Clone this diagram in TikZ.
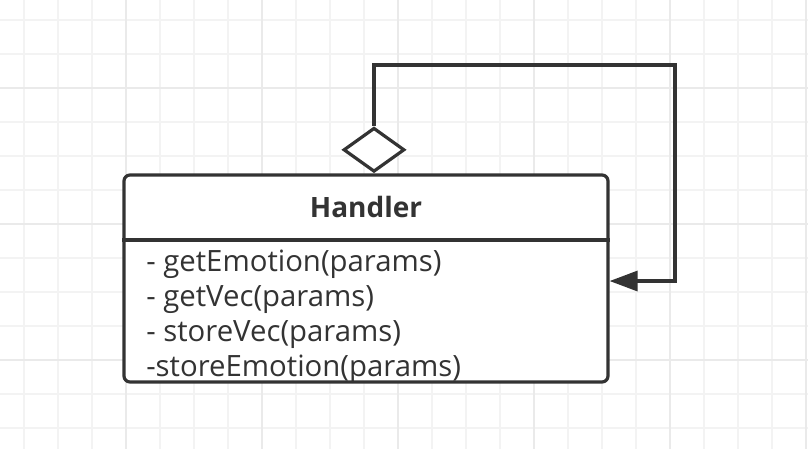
\documentclass[tikz,border=0pt]{standalone}
\usepackage{fontspec}
\setmainfont{Open Sans}
\usetikzlibrary{arrows.meta, positioning, shapes.geometric}
\definecolor{LineGray}{HTML}{333333}
\definecolor{GridLight}{HTML}{F3F3F3}
\definecolor{GridDark}{HTML}{EAEAEA}

\begin{document}
\begin{tikzpicture} [
    x=0.75pt, y=-0.75pt,
    C/.style = {draw=LineGray, line width=2.4pt, rounded corners=4.5pt,
                minimum width=363pt, minimum height=155.25pt, inner sep=0pt},
   agg/.style = {diamond, draw=LineGray, line width=2.4pt, fill=white,
                minimum width=45.75pt, minimum height=33pt, inner sep=0pt},
   row/.style = {anchor=base west, inner sep=0pt, text=LineGray, font=\fontsize{22}{25}\selectfont},
    every edge/.style={draw=LineGray, line width=2.4pt}
]
  \useasboundingbox (0,0) rectangle (808,449);

  % Grid
  \foreach \x in {24,58,...,808} \draw[GridLight, line width=1.5pt] (\x,0) -- (\x,449);
  \foreach \y in {20,54,...,449} \draw[GridLight, line width=1.5pt] (0,\y) -- (808,\y);
  \foreach \x in {126,262,...,808} \draw[GridDark, line width=1.5pt] (\x,0) -- (\x,449);
  \foreach \y in {88,224,360} \draw[GridDark, line width=1.5pt] (0,\y) -- (808,\y);

  % Class box
  \node[C, fill=white] (handler) at (366,278.5) {};
  \node[anchor=base, inner sep=0pt, text=LineGray, font=\fontsize{21}{24}\selectfont\bfseries] (name) at (366,218) {Handler};
  \coordinate (sep) at (0,240);
  \draw[LineGray, line width=2.4pt] (handler.west |- sep) -- (handler.east |- sep);

  % Methods
  \node[row] (m1) at (146,272) {- getEmotion(params)};
  \node[row, below=26.25pt of m1.base west, anchor=base west] (m2) {- getVec(params)};
  \node[row, below=26.25pt of m2.base west, anchor=base west] (m3) {- storeVec(params)};
  \node[row, below=26.25pt of m3.base west, anchor=base west] (m4) {-storeEmotion(params)};

  % Self aggregation
  \node[agg, anchor=south] (diam) at (handler.north -| 374,0) {};
  \coordinate (loop) at (675,65);
  \draw[LineGray, line width=2.4pt, -{Triangle[length=21pt, width=15pt]}]
    (diam.north) |- (loop) |- ([yshift=-1.9pt]handler.east);
\end{tikzpicture}
\end{document}
